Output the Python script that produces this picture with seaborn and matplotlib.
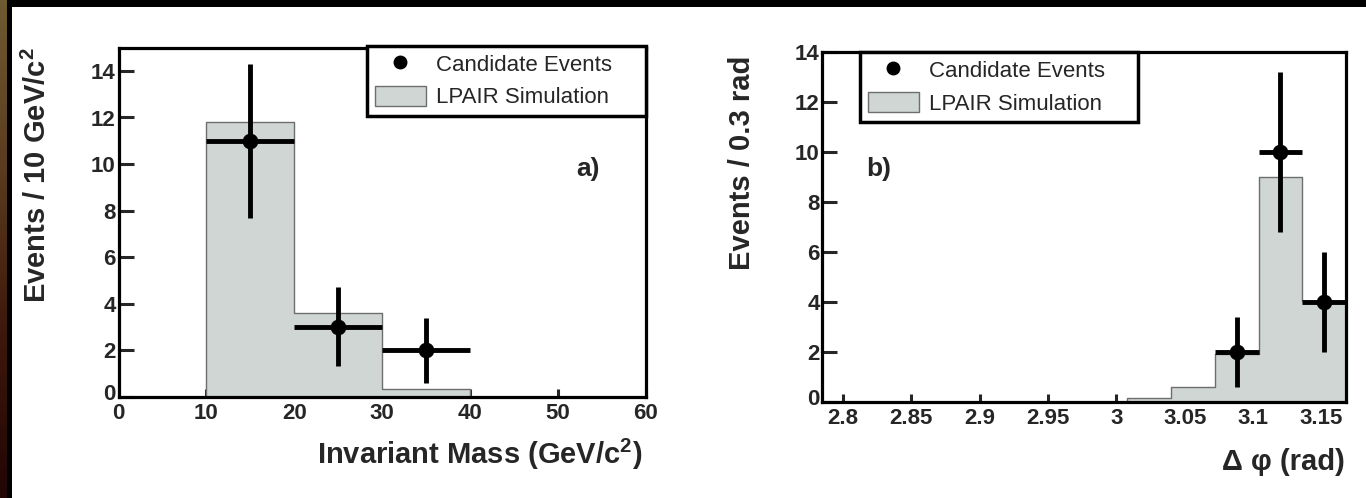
import numpy as np
import pandas as pd
import matplotlib
matplotlib.use("Agg")
import matplotlib.pyplot as plt
import matplotlib.transforms as mtransforms
import seaborn as sns
from matplotlib.lines import Line2D
from matplotlib.patches import Patch, Rectangle
from matplotlib.colors import LinearSegmentedColormap

# ---------------- data ----------------
mass_edges = [10, 20, 30, 40]
mass_sim = [11.8, 3.6, 0.35]
mass_x = [15, 25, 35]
mass_counts = [11, 3, 2]
mass_err = [3.3, 1.7, 1.4]

dphi_edges = [3.008, 3.040, 3.072, 3.104, 3.136, 3.168]
dphi_sim = [0.15, 0.6, 1.9, 9.0, 4.05]
dphi_x = [3.088, 3.120, 3.152]
dphi_counts = [2, 10, 4]
dphi_err = [1.4, 3.2, 2.0]

mass_ticks = [0, 10, 20, 30, 40, 50, 60]
dphi_ticks = [2.8, 2.85, 2.9, 2.95, 3.0, 3.05, 3.1, 3.15]
dphi_ticklabels = ["2.8", "2.85", "2.9", "2.95", "3", "3.05", "3.1", "3.15"]
y_ticks = [0, 2, 4, 6, 8, 10, 12, 14]

legend_labels = ["Candidate Events", "LPAIR Simulation"]

# ---------------- style ----------------
sns.set_style("ticks")
plt.rcParams["font.family"] = ["Liberation Sans", "DejaVu Sans"]
plt.rcParams["font.weight"] = "bold"
plt.rcParams["axes.labelweight"] = "bold"
plt.rcParams["mathtext.fontset"] = "custom"
plt.rcParams["mathtext.rm"] = "Liberation Sans:bold"
plt.rcParams["mathtext.bf"] = "Liberation Sans:bold"
plt.rcParams["mathtext.default"] = "bf"

FILL = "#cfd6d4"
EDGE = "#6e6e6e"
W, H = 1366, 498

fig = plt.figure(figsize=(W / 100, H / 100), dpi=100, facecolor="black")
fig.add_artist(Rectangle((12 / W, 0), 1 - 12 / W, (H - 7) / H,
                         transform=fig.transFigure, facecolor="white",
                         edgecolor="none", zorder=-5))
# brownish strip on the far left
sax = fig.add_axes([0, 0, 7 / W, 1], zorder=-4)
cmap = LinearSegmentedColormap.from_list("strip", ["#6e5a30", "#5a3c1e", "#3e180c", "#220604"])
sax.imshow(np.linspace(0, 1, 100).reshape(-1, 1), aspect="auto", cmap=cmap)
sax.axis("off")

ax1 = fig.add_axes([118.5 / W, (H - 396.7) / H, 527.5 / W, 349.0 / H])
ax2 = fig.add_axes([822.4 / W, (H - 402.0) / H, 523.6 / W, 350.3 / H])


def draw(ax, edges, sim, xs, counts, err):
    e = np.asarray(edges, dtype=float)
    centers = (e[:-1] + e[1:]) / 2
    df = pd.DataFrame({"x": centers, "w": sim})
    sns.histplot(data=df, x="x", weights="w", bins=list(edges), element="step",
                 fill=True, color=FILL, edgecolor=EDGE, linewidth=1.0,
                 alpha=1, ax=ax, zorder=2)
    xerr = np.diff(e)[-len(xs):] / 2
    ax.errorbar(xs, counts, xerr=xerr, yerr=err, fmt="none", ecolor="black",
                elinewidth=3.5, capsize=0, zorder=4)
    sns.scatterplot(x=xs, y=counts, color="black", s=110, edgecolor="black",
                    ax=ax, zorder=5, legend=False)


draw(ax1, mass_edges, mass_sim, mass_x, mass_counts, mass_err)
draw(ax2, dphi_edges, dphi_sim, dphi_x, dphi_counts, dphi_err)

for ax in (ax1, ax2):
    ax.set_facecolor("white")
    for s in ax.spines.values():
        s.set_visible(True)
        s.set_linewidth(2.3)
        s.set_color("black")
    ax.tick_params(axis="y", direction="in", length=10.8, width=2.2,
                   labelsize=16, pad=2, right=False)
    ax.tick_params(axis="x", direction="in", length=5.8, width=2.2,
                   labelsize=16, pad=4.5, top=False)
    ax.set_yticks(y_ticks)

ax1.set_xlim(0, 60)
ax1.set_ylim(0, 15)
ax1.set_xticks(mass_ticks)
ax1.set_xticklabels([str(t) for t in mass_ticks])

ax2.set_xlim(2.785, 3.168)
ax2.set_ylim(0, 14)
ax2.set_xticks(dphi_ticks)
ax2.set_xticklabels(dphi_ticklabels)

# lift the y "0" labels a few pixels so they clear the x "0" label
lift = mtransforms.ScaledTranslation(0, 5 / 100, fig.dpi_scale_trans)
for ax in (ax1, ax2):
    lbl = ax.yaxis.get_major_ticks()[0].label1
    lbl.set_transform(lbl.get_transform() + lift)

ax1.set_ylabel("Events / 10 GeV/c$^{2}$", fontsize=21, fontweight="bold", loc="top")
ax1.yaxis.set_label_coords(-0.127, 1.0)
ax1.set_xlabel("Invariant Mass (GeV/c$^{2}$)", fontsize=21, fontweight="bold", loc="right")
ax1.xaxis.set_label_coords(0.994, -0.115)

ax2.set_ylabel("Events / 0.3 rad", fontsize=21, fontweight="bold", loc="top")
ax2.yaxis.set_label_coords(-0.127, 0.99)
ax2.set_xlabel("Δ φ (rad)", fontsize=21, fontweight="bold", loc="right")
ax2.xaxis.set_label_coords(0.998, -0.13)

ax1.text(53.4, 9.8, "a)", fontsize=19, fontweight="bold", ha="center", va="center")
ax2.text(2.826, 9.3, "b)", fontsize=19, fontweight="bold", ha="center", va="center")

handles = [Line2D([], [], marker="o", color="black", linestyle="none", markersize=9),
           Patch(facecolor=FILL, edgecolor=EDGE, linewidth=1)]

for ax, bb in ((ax1, (0.471, 0.801, 0.529, 0.205)), (ax2, (0.072, 0.796, 0.531, 0.204))):
    leg = ax.legend(handles, legend_labels, loc="upper left", bbox_to_anchor=bb,
                    mode="expand", borderaxespad=0, prop={"size": 16, "weight": "normal"},
                    frameon=True, fancybox=False, edgecolor="black", framealpha=1,
                    handlelength=2.3, handleheight=1.0, handletextpad=0.45,
                    borderpad=0.35, labelspacing=0.45)
    leg.get_frame().set_linewidth(2.5)
    leg.set_zorder(10)

fig.savefig("out.png", dpi=100, facecolor=fig.get_facecolor())
